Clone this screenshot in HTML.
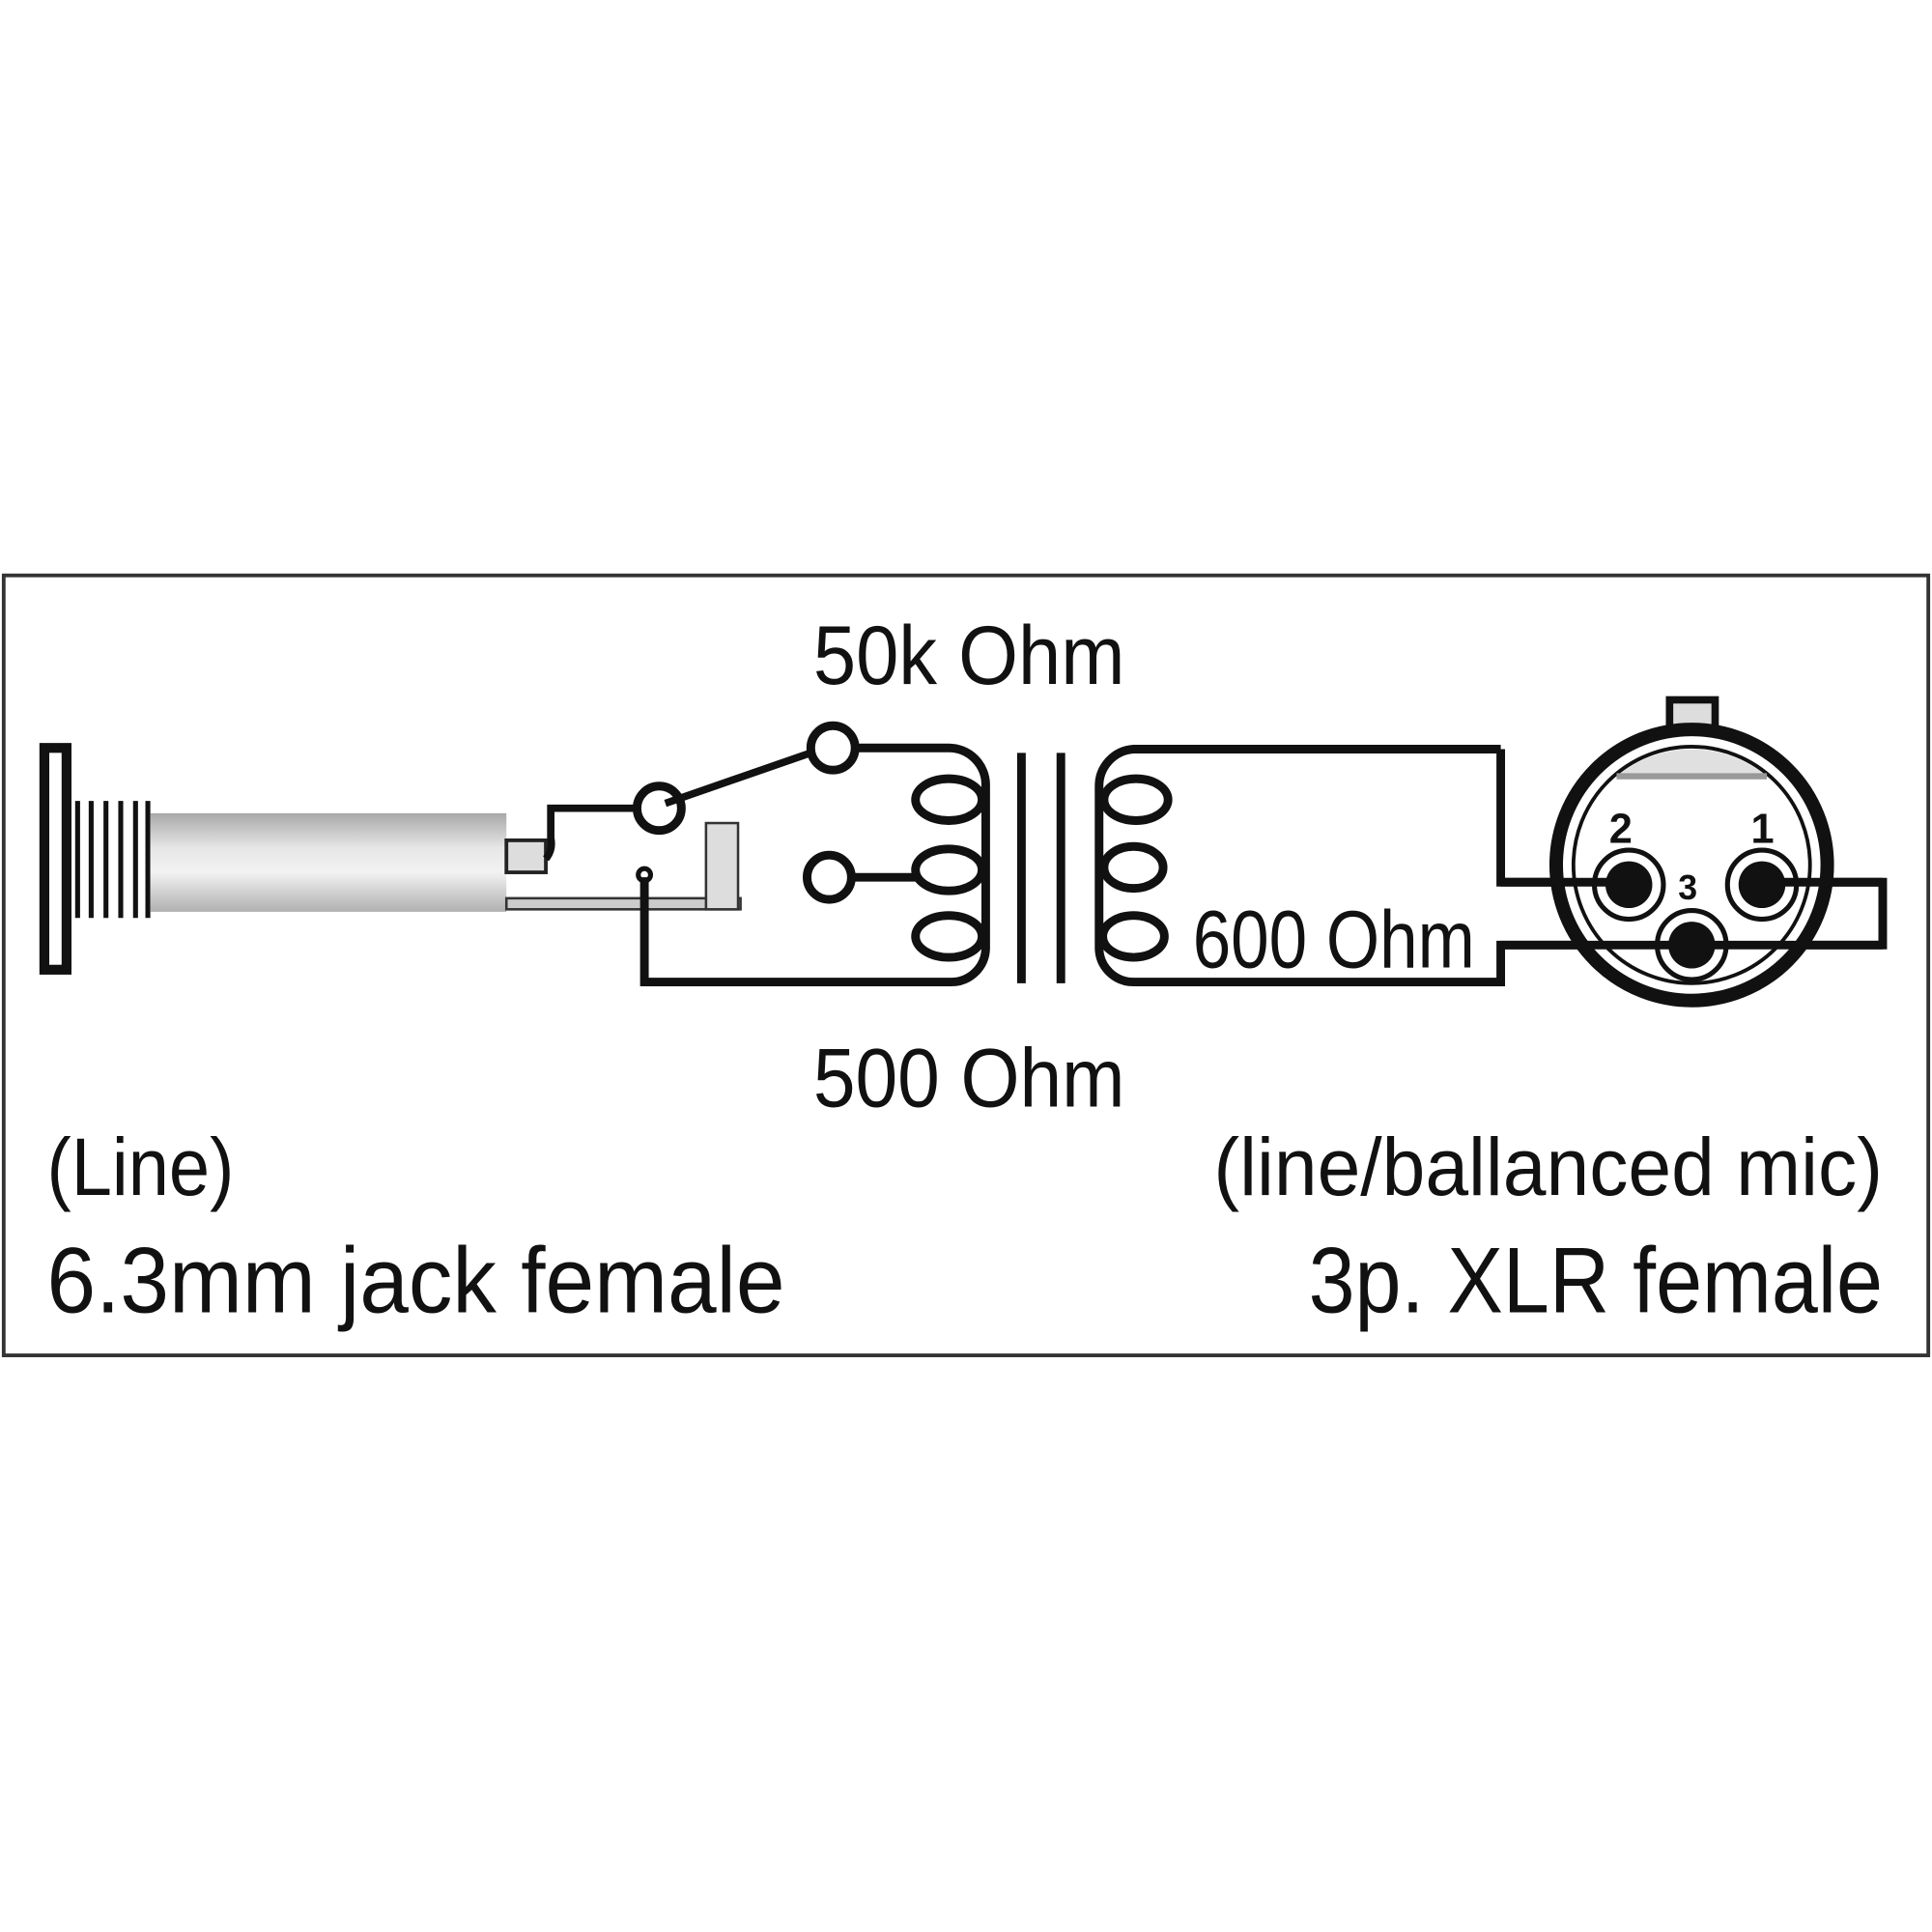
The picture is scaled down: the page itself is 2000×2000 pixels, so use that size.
<!DOCTYPE html>
<html><head><meta charset="utf-8"><style>html,body{margin:0;padding:0;background:#fff}svg{display:block}</style></head>
<body>
<svg width="2000" height="2000" viewBox="0 0 1568 1568" xmlns="http://www.w3.org/2000/svg">
<defs>
<linearGradient id="g" x1="0" y1="0" x2="0" y2="1">
<stop offset="0" stop-color="#a8a8a8"/><stop offset="0.35" stop-color="#e6e6e6"/><stop offset="0.6" stop-color="#f2f2f2"/><stop offset="1" stop-color="#b0b0b0"/>
</linearGradient>
</defs>
<rect x="0" y="0" width="1568" height="1568" fill="#fff"/>
<rect x="3" y="467" width="1562" height="633" fill="none" stroke="#333" stroke-width="3"/>
<g font-family="Liberation Sans, sans-serif" fill="#111">
<text x="660" y="555" font-size="68" textLength="253" lengthAdjust="spacingAndGlyphs">50k Ohm</text>
<text x="660" y="898" font-size="68" textLength="253" lengthAdjust="spacingAndGlyphs">500 Ohm</text>
<text x="968" y="785" font-size="66" textLength="229" lengthAdjust="spacingAndGlyphs">600 Ohm</text>
<text x="38" y="970" font-size="66" textLength="152" lengthAdjust="spacingAndGlyphs">(Line)</text>
<text x="38" y="1065" font-size="76" textLength="599" lengthAdjust="spacingAndGlyphs">6.3mm jack female</text>
<text x="985" y="970" font-size="66" textLength="543" lengthAdjust="spacingAndGlyphs">(line/ballanced mic)</text>
<text x="1062" y="1065" font-size="76" textLength="466" lengthAdjust="spacingAndGlyphs">3p. XLR female</text>
</g>
<!-- jack -->
<rect x="36" y="607" width="18" height="180" fill="#fff" stroke="#111" stroke-width="8"/>
<g stroke="#111" stroke-width="4">
<line x1="63" y1="650" x2="63" y2="745"/><line x1="74" y1="650" x2="74" y2="745"/><line x1="86" y1="650" x2="86" y2="745"/><line x1="98" y1="650" x2="98" y2="745"/><line x1="110" y1="650" x2="110" y2="745"/><line x1="120" y1="650" x2="120" y2="745"/>
</g>
<rect x="122" y="660" width="289" height="80" fill="url(#g)"/>
<rect x="411" y="682" width="32" height="26" fill="#ddd" stroke="#222" stroke-width="3"/>
<rect x="411" y="729" width="190" height="9" fill="#ccc" stroke="#333" stroke-width="2"/>
<rect x="573" y="668" width="26" height="70" fill="#ddd" stroke="#333" stroke-width="2"/>
<g fill="none" stroke="#111" stroke-width="7">
<path d="M443,697 Q449,690 447,680 V656 H517" stroke-width="6"/>
<circle cx="535" cy="656" r="18"/>
<line x1="540" y1="652" x2="658" y2="611" stroke-width="6"/>
<circle cx="676" cy="607" r="18"/>
<path d="M694,607 H770 A30 30 0 0 1 800 637 V770 A28 28 0 0 1 772 797 H523 V712"/>
<circle cx="523" cy="710" r="5" stroke-width="4"/>
<circle cx="673" cy="712" r="18"/>
<line x1="691" y1="712" x2="745" y2="712"/>
<ellipse cx="770" cy="649" rx="27" ry="17"/>
<ellipse cx="770" cy="706" rx="27" ry="17"/>
<ellipse cx="770" cy="760" rx="27" ry="17"/>
<line x1="829" y1="611" x2="829" y2="798" stroke-width="7"/>
<line x1="861" y1="611" x2="861" y2="798" stroke-width="7"/>
<path d="M1218,608 H920 A30 30 0 0 0 892 638 V770 A28 28 0 0 0 920 797 H1218 V767 H1372"/>
<path d="M1218,608 V716 H1322"/>
<path d="M1430,716 H1528 V767 H1372"/>
<ellipse cx="922" cy="649" rx="26" ry="17"/>
<ellipse cx="920" cy="704" rx="24" ry="17"/>
<ellipse cx="920" cy="760" rx="25" ry="17"/>
</g>
<!-- XLR -->
<rect x="1355" y="568" width="37" height="30" fill="#ddd" stroke="#111" stroke-width="6"/>
<circle cx="1373" cy="702" r="110" fill="#fff" stroke="#111" stroke-width="11"/>
<circle cx="1373" cy="702" r="96" fill="none" stroke="#111" stroke-width="3"/>
<path d="M1312,630 A96 96 0 0 1 1434 630 Z" fill="#e0e0e0"/>
<line x1="1312" y1="630" x2="1434" y2="630" stroke="#999" stroke-width="5"/>
<g font-family="Liberation Sans, sans-serif" font-weight="bold" font-size="34" fill="#111">
<text x="1306" y="684">2</text><text x="1421" y="684">1</text><text x="1362" y="730" font-size="28">3</text>
</g>
<g fill="#fff" stroke="#111" stroke-width="4">
<circle cx="1322" cy="718" r="28"/><circle cx="1430" cy="718" r="28"/><circle cx="1373" cy="767" r="28"/>
</g>
<g fill="#111">
<circle cx="1322" cy="718" r="19"/><circle cx="1430" cy="718" r="19"/><circle cx="1373" cy="767" r="19"/>
</g>
<g stroke="#111" stroke-width="7" fill="none">
<line x1="1218" y1="716" x2="1330" y2="716"/><line x1="1422" y1="716" x2="1528" y2="716"/><line x1="1218" y1="767" x2="1528" y2="767"/>
</g>
</svg>
</body></html>
